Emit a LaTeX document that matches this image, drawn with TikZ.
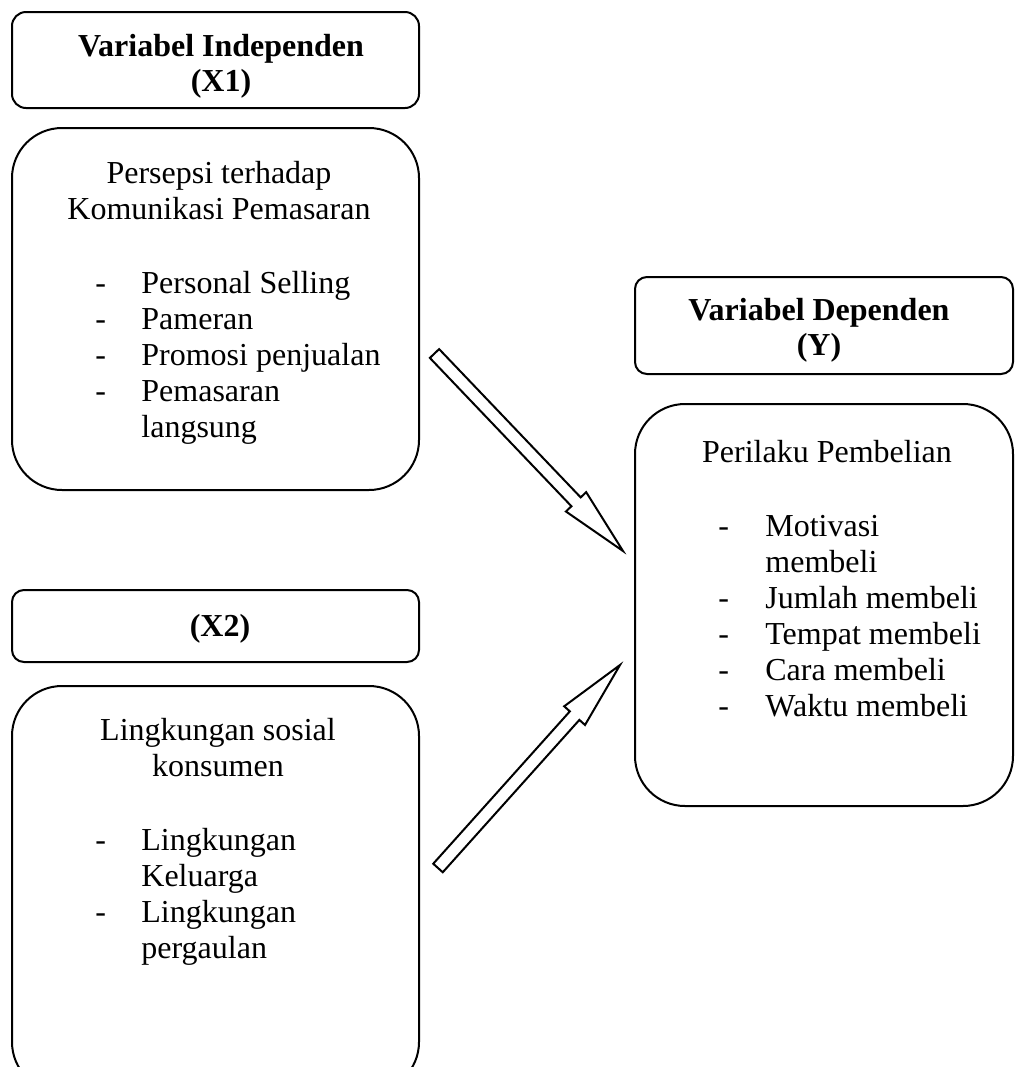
\documentclass[tikz,border=0pt]{standalone}
\usepackage{fontspec}
\setmainfont{Liberation Serif}
\usetikzlibrary{calc}
\newcommand{\blockarr}[2]{%
  \path ($(#2)!34pt!(#1)$) coordinate (#1B);
  \draw[blockarrow]
    ($(#1)!3.2pt!90:(#2)$) -- ($(#1B)!3.2pt!90:(#2)$) -- ($(#1B)!7pt!90:(#2)$)
    -- (#2)
    -- ($(#1B)!7pt!-90:(#2)$) -- ($(#1B)!3.2pt!-90:(#2)$) -- ($(#1)!3.2pt!-90:(#2)$) -- cycle;}
\begin{document}
\begin{tikzpicture}[x=0.5pt,y=-0.5pt,
  box/.style={draw, line width=1pt, inner sep=0pt},
  txt/.style={anchor=base, inner sep=0pt, font=\fontsize{16}{18}\selectfont},
  ttl/.style={anchor=base, inner sep=0pt, font=\fontsize{16}{18}\selectfont\bfseries},
  lft/.style={anchor=base west, inner sep=0pt, font=\fontsize{16}{18}\selectfont},
  blockarrow/.style={draw, line width=1pt, fill=white, line join=miter}]
\useasboundingbox (0,0) rectangle (1014,1067);
\clip (0,0) rectangle (1014,1067);

% boxes
\node[box, rounded corners=7pt, minimum width=203.5pt, minimum height=48pt] (b1) at (215.5,60) {};
\node[box, rounded corners=25pt, minimum width=203.5pt, minimum height=181pt] (b2) at (215.5,309) {};
\node[box, rounded corners=6pt, minimum width=203.5pt, minimum height=36pt] (b3) at (215.5,626) {};
\node[box, rounded corners=25pt, minimum width=203.5pt, minimum height=203pt] (b4) at (215.5,889) {};
\node[box, rounded corners=6pt, minimum width=189pt, minimum height=48.5pt] (b5) at (824,325.5) {};
\node[box, rounded corners=25pt, minimum width=189pt, minimum height=201pt] (b6) at (824,605) {};

% box 1
\node[ttl] (t1a) at (221,56) {Variabel Independen};
\node[ttl] (t1b) at (221,91) {(X1)};

% box 2
\node[txt] (p1) at (219,183) {Persepsi terhadap};
\node[txt] (p2) at (219,219) {Komunikasi Pemasaran};
\node[lft] (pd1) at (95,293) {-};
\node[lft] (pi1) at (141,293) {Personal Selling};
\node[lft] (pd2) at (95,329) {-};
\node[lft] (pi2) at (141,329) {Pameran};
\node[lft] (pd3) at (95,365) {-};
\node[lft] (pi3) at (141,365) {Promosi penjualan};
\node[lft] (pd4) at (95,401) {-};
\node[lft] (pi4) at (141,401) {Pemasaran};
\node[lft] (pi5) at (141,437) {langsung};

% box 3
\node[ttl] (t3) at (220,636) {(X2)};

% box 4
\node[txt] (l1) at (218,740) {Lingkungan sosial};
\node[txt] (l2) at (218,776) {konsumen};
\node[lft] (ld1) at (95,850) {-};
\node[lft] (li1) at (141,850) {Lingkungan};
\node[lft] (li2) at (141,886) {Keluarga};
\node[lft] (ld2) at (95,922) {-};
\node[lft] (li3) at (141,922) {Lingkungan};
\node[lft] (li4) at (141,958) {pergaulan};

% box 5
\node[ttl] (t5a) at (819,320) {Variabel Dependen};
\node[ttl] (t5b) at (819,355) {(Y)};

% box 6
\node[txt] (r0) at (827,462) {Perilaku Pembelian};
\node[lft] (rd1) at (718,536) {-};
\node[lft] (ri1) at (765,536) {Motivasi};
\node[lft] (ri1b) at (765,572) {membeli};
\node[lft] (rd2) at (718,608) {-};
\node[lft] (ri2) at (765,608) {Jumlah membeli};
\node[lft] (rd3) at (718,644) {-};
\node[lft] (ri3) at (765,644) {Tempat membeli};
\node[lft] (rd4) at (718,680) {-};
\node[lft] (ri4) at (765,680) {Cara membeli};
\node[lft] (rd5) at (718,716) {-};
\node[lft] (ri5) at (765,716) {Waktu membeli};

% arrows
\coordinate (a1t) at (434.5,353.5);
\coordinate (a1h) at (623,551);
\coordinate (a2t) at (438,868);
\coordinate (a2h) at (620,665);
\blockarr{a1t}{a1h}
\blockarr{a2t}{a2h}
\end{tikzpicture}
\end{document}
